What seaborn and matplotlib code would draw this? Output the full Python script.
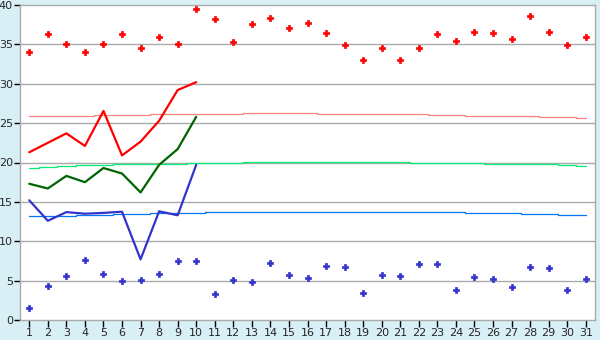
import matplotlib
matplotlib.use("Agg")
import matplotlib.pyplot as plt
import seaborn as sns
import numpy as np
import pandas as pd

days = list(range(1, 32))
day_labels = [str(d) for d in days]

# record max / min markers
record_max = [34.0, 36.3, 35.0, 34.0, 35.0, 36.3, 34.5, 35.9, 35.0, 39.5,
              38.2, 35.3, 37.6, 38.3, 37.1, 37.7, 36.4, 34.9, 33.0, 34.5,
              33.0, 34.6, 36.3, 35.4, 36.6, 36.4, 35.7, 38.6, 36.6, 34.9, 36.0]
record_min = [1.5, 4.3, 5.55, 7.6, 5.8, 4.9, 5.1, 5.8, 7.45, 7.45,
              3.27, 5.04, 4.79, 7.2, 5.68, 5.3, 6.8, 6.7, 3.4, 5.68,
              5.55, 7.08, 7.08, 3.77, 5.42, 5.17, 4.15, 6.7, 6.57, 3.77, 5.17]

# actual observations (days 1-10)
obs_days = list(range(1, 11))
obs_max = [21.3, 22.5, 23.7, 22.1, 26.55, 20.9, 22.65, 25.3, 29.2, 30.2]
obs_mean = [17.3, 16.7, 18.3, 17.5, 19.3, 18.6, 16.2, 19.7, 21.7, 25.8]
obs_min = [15.2, 12.6, 13.7, 13.5, 13.6, 13.75, 7.7, 13.8, 13.3, 19.7]

# normals
norm_max = [25.87]*4 + [26.0]*3 + [26.1]*5 + [26.25]*4 + [26.1]*6 + [26.0]*2 + [25.87]*4 + [25.75]*2 + [25.6]
norm_mean = [19.27, 19.4, 19.5, 19.65, 19.65, 19.78, 19.78, 19.8, 19.8, 19.9, 19.9, 19.9] + [20.04]*9 + [19.9]*4 + [19.78]*4 + [19.65] + [19.5]
norm_min = [13.17]*3 + [13.3]*2 + [13.43]*2 + [13.55]*3 + [13.68]*14 + [13.55]*3 + [13.43]*2 + [13.3]*2

sns.set_theme(style="white")
plt.rcParams['font.family'] = ['DejaVu Sans']

bg = "#d9eff6"
fig = plt.figure(figsize=(6, 3.4), dpi=100, facecolor=bg)
ax = fig.add_axes([20/600, 1-320/340, 575/600, 315/340])
ax.set_facecolor("white")

for yv in range(5, 40, 5):
    ax.axhline(yv, color="#aaaaaa", lw=1.0, zorder=0)

df_n = pd.DataFrame({"day": days, "nmax": norm_max, "nmean": norm_mean, "nmin": norm_min})
sns.lineplot(data=df_n, x="day", y="nmax", ax=ax, color="#ff8080", lw=0.9, drawstyle="steps-mid", zorder=2)
sns.lineplot(data=df_n, x="day", y="nmean", ax=ax, color="#00ee77", lw=0.9, drawstyle="steps-mid", zorder=2)
sns.lineplot(data=df_n, x="day", y="nmin", ax=ax, color="#0077ee", lw=0.9, drawstyle="steps-mid", zorder=2)

df_o = pd.DataFrame({"day": obs_days, "omax": obs_max, "omean": obs_mean, "omin": obs_min})
sns.lineplot(data=df_o, x="day", y="omax", ax=ax, color="#ff0000", lw=1.6, zorder=3)
sns.lineplot(data=df_o, x="day", y="omean", ax=ax, color="#006400", lw=1.6, zorder=3)
sns.lineplot(data=df_o, x="day", y="omin", ax=ax, color="#3333cc", lw=1.6, zorder=3)

df_r = pd.DataFrame({"day": days, "rmax": record_max, "rmin": record_min})
sns.scatterplot(data=df_r, x="day", y="rmax", ax=ax, color="#ff0000", marker="P", s=20, linewidth=0.5, edgecolor="#ff0000", zorder=4)
sns.scatterplot(data=df_r, x="day", y="rmin", ax=ax, color="#3333cc", marker="P", s=20, linewidth=0.5, edgecolor="#3333cc", zorder=4)

ax.set_xlim(0.5, 31.5)
ax.set_ylim(0, 40)
ax.set_xticks(days)
ax.set_xticklabels(day_labels)
ax.set_yticks(range(0, 41, 5))
ax.set_xlabel("")
ax.set_ylabel("")
ax.tick_params(axis="x", direction="out", length=5, width=1, color="black", labelsize=8, pad=1, bottom=True)
ax.tick_params(axis="y", direction="out", length=4, width=1, color="black", labelsize=8, pad=1, left=True)
for s in ax.spines.values():
    s.set_color("#aaaaaa")
    s.set_linewidth(1.0)

fig.savefig("out.png", dpi=100, facecolor=bg)
